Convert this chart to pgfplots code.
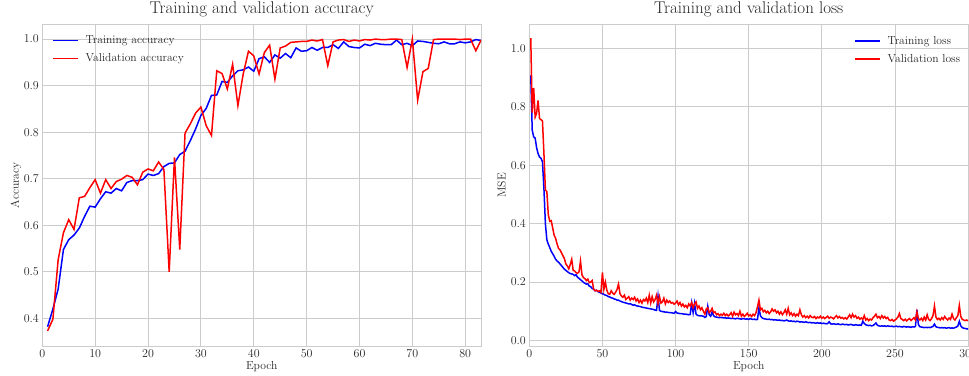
\documentclass[border=0pt]{standalone}
\usepackage{pgfplots}
\pgfplotsset{compat=1.18}
\definecolor{txt}{gray}{0.15}
\definecolor{gridc}{gray}{0.8}
\begin{document}
\begin{tikzpicture}
\useasboundingbox (0,0) rectangle (969pt,375pt);
\clip (0,0) rectangle (969pt,375pt);
\pgfplotsset{
  legend image code/.code={\draw[#1, line width=1.5pt] (0pt,0pt) -- (25pt,0pt);},
  every axis/.append style={
    scale only axis, width=438.8pt, height=321.5pt, anchor=south west,
    font=\fontsize{11.6}{13.5}\selectfont,
    grid=major, major grid style={gridc, line width=0.9pt},
    axis line style={gridc, line width=1pt},
    major tick length=0pt,
    tick label style={text=txt},
    label style={text=txt},
    title style={font=\fontsize{17}{20}\selectfont, text=txt, yshift=-2.5pt},
    legend cell align=left,
    xlabel style={at={(axis description cs:0.5,-0.0644)}, anchor=center},
    yticklabel style={/pgf/number format/.cd, fixed, fixed zerofill, precision=1},
  }
}
% ---------------- Accuracy ----------------
\begin{axis}[
  at={(42.3pt,29pt)},
  xmin=0, xmax=83, ymin=0.3406, ymax=1.0314,
  xtick={0,10,20,30,40,50,60,70,80},
  ytick={0.4,0.5,0.6,0.7,0.8,0.9,1.0},
  title={Training and validation accuracy},
  xlabel={Epoch}, ylabel={Accuracy},
  ylabel style={at={(axis description cs:-0.060,0.5)}, anchor=center},
  legend style={draw=none, fill=none, at={(axis description cs:0.022,0.972)}, anchor=north west, inner sep=0pt, row sep=4.5pt, column sep=5pt, nodes={inner sep=2pt, text=txt}},
]
\addplot[color=blue, line width=1.5pt] table[x expr=\coordindex+1, y index=0, header=false, row sep=\\] {
0.382\\0.42\\0.463\\0.548\\0.569\\0.579\\0.594\\0.619\\0.641\\0.639\\
0.657\\0.672\\0.669\\0.679\\0.674\\0.692\\0.696\\0.696\\0.698\\0.71\\
0.707\\0.711\\0.726\\0.733\\0.734\\0.752\\0.759\\0.782\\0.807\\0.836\\
0.851\\0.879\\0.88\\0.909\\0.907\\0.921\\0.932\\0.934\\0.94\\0.931\\
0.958\\0.962\\0.95\\0.966\\0.959\\0.969\\0.96\\0.981\\0.974\\0.975\\
0.982\\0.976\\0.982\\0.982\\0.988\\0.98\\0.994\\0.984\\0.982\\0.981\\
0.989\\0.986\\0.991\\0.989\\0.988\\0.988\\0.998\\0.988\\0.991\\0.986\\
0.996\\0.995\\0.993\\0.991\\0.99\\0.994\\0.99\\0.99\\0.994\\0.992\\
0.994\\0.999\\0.997\\
};
\addlegendentry{Training accuracy}
\addplot[color=red, line width=1.5pt] table[x expr=\coordindex+1, y index=0, header=false, row sep=\\] {
0.373\\0.398\\0.526\\0.584\\0.612\\0.591\\0.659\\0.662\\0.681\\0.698\\
0.669\\0.698\\0.679\\0.694\\0.699\\0.707\\0.703\\0.687\\0.714\\0.721\\
0.717\\0.736\\0.72\\0.5\\0.746\\0.548\\0.798\\0.818\\0.841\\0.854\\
0.814\\0.793\\0.932\\0.926\\0.893\\0.946\\0.857\\0.925\\0.974\\0.964\\
0.925\\0.971\\0.987\\0.914\\0.981\\0.985\\0.993\\0.994\\0.995\\0.995\\
0.998\\0.996\\0.999\\0.943\\0.994\\0.998\\0.999\\0.995\\0.998\\0.996\\
0.999\\0.998\\1.0\\0.999\\0.999\\1.0\\1.0\\0.999\\0.939\\1.0\\
0.869\\0.93\\0.937\\0.999\\1.0\\1.0\\1.0\\1.0\\0.999\\1.0\\
1.0\\0.975\\0.998\\
};
\addlegendentry{Validation accuracy}
\end{axis}
% ---------------- Loss ----------------
\begin{axis}[
  at={(529.3pt,29pt)},
  xmin=0, xmax=300, ymin=-0.019, ymax=1.082,
  xtick={0,50,100,150,200,250,300},
  ytick={0,0.2,0.4,0.6,0.8,1.0},
  title={Training and validation loss},
  xlabel={Epoch}, ylabel={MSE},
  ylabel style={at={(axis description cs:-0.063,0.5)}, anchor=center},
  legend style={draw=none, fill=none, at={(axis description cs:0.987,0.97)}, anchor=north east, inner sep=0pt, row sep=4.5pt, column sep=5pt, nodes={inner sep=2pt, text=txt}},
]
\addplot[color=blue, line width=1.5pt] table[x expr=\coordindex+1, y index=0, header=false, row sep=\\] {
0.908\\0.72\\0.697\\0.693\\0.66\\0.64\\0.628\\0.624\\0.612\\0.52\\
0.40\\0.345\\0.33\\0.318\\0.305\\0.297\\0.288\\0.278\\0.272\\0.268\\
0.262\\0.256\\0.25\\0.244\\0.24\\0.236\\0.232\\0.229\\0.228\\0.226\\
0.222\\0.225\\0.216\\0.213\\0.208\\0.204\\0.199\\0.196\\0.193\\0.194\\
0.186\\0.184\\0.178\\0.176\\0.17\\0.172\\0.167\\0.165\\0.162\\0.16\\
0.158\\0.155\\0.154\\0.15\\0.149\\0.146\\0.145\\0.142\\0.141\\0.138\\
0.138\\0.135\\0.133\\0.131\\0.13\\0.128\\0.127\\0.125\\0.126\\0.123\\
0.121\\0.122\\0.119\\0.118\\0.117\\0.116\\0.114\\0.113\\0.112\\0.111\\
0.11\\0.109\\0.108\\0.107\\0.106\\0.104\\0.103\\0.152\\0.103\\0.1\\
0.099\\0.098\\0.097\\0.097\\0.096\\0.095\\0.095\\0.094\\0.093\\0.099\\
0.094\\0.093\\0.092\\0.092\\0.091\\0.09\\0.09\\0.089\\0.088\\0.089\\
0.128\\0.095\\0.127\\0.09\\0.086\\0.085\\0.084\\0.084\\0.083\\0.079\\
0.082\\0.117\\0.088\\0.083\\0.098\\0.085\\0.081\\0.08\\0.079\\0.078\\
0.079\\0.078\\0.077\\0.078\\0.076\\0.077\\0.076\\0.075\\0.076\\0.075\\
0.074\\0.076\\0.075\\0.074\\0.073\\0.075\\0.074\\0.073\\0.074\\0.072\\
0.075\\0.073\\0.072\\0.073\\0.071\\0.072\\0.112\\0.085\\0.078\\0.075\\
0.074\\0.073\\0.072\\0.073\\0.071\\0.072\\0.07\\0.071\\0.07\\0.069\\
0.07\\0.068\\0.069\\0.067\\0.068\\0.07\\0.067\\0.066\\0.067\\0.065\\
0.066\\0.064\\0.066\\0.065\\0.063\\0.064\\0.063\\0.062\\0.064\\0.062\\
0.061\\0.062\\0.06\\0.061\\0.06\\0.059\\0.061\\0.059\\0.06\\0.058\\
0.059\\0.058\\0.057\\0.058\\0.064\\0.057\\0.056\\0.057\\0.056\\0.055\\
0.057\\0.055\\0.054\\0.056\\0.055\\0.054\\0.055\\0.053\\0.054\\0.055\\
0.053\\0.052\\0.054\\0.053\\0.052\\0.053\\0.052\\0.066\\0.058\\0.054\\
0.052\\0.051\\0.052\\0.05\\0.051\\0.055\\0.06\\0.052\\0.05\\0.049\\
0.05\\0.049\\0.05\\0.048\\0.05\\0.049\\0.048\\0.049\\0.047\\0.048\\
0.049\\0.047\\0.048\\0.047\\0.046\\0.048\\0.047\\0.046\\0.047\\0.046\\
0.045\\0.047\\0.046\\0.048\\0.105\\0.055\\0.047\\0.046\\0.045\\0.044\\
0.045\\0.044\\0.045\\0.044\\0.046\\0.048\\0.056\\0.047\\0.045\\0.044\\
0.043\\0.044\\0.043\\0.044\\0.042\\0.043\\0.044\\0.042\\0.043\\0.042\\
0.044\\0.046\\0.05\\0.066\\0.05\\0.044\\0.042\\0.041\\0.04\\0.039\\
};
\addlegendentry{Training loss}
\addplot[color=red, line width=1.5pt] table[x expr=\coordindex+1, y index=0, header=false, row sep=\\] {
1.035\\0.78\\0.865\\0.765\\0.778\\0.822\\0.76\\0.756\\0.752\\0.64\\
0.515\\0.51\\0.43\\0.408\\0.41\\0.385\\0.36\\0.35\\0.33\\0.315\\
0.31\\0.3\\0.29\\0.28\\0.262\\0.255\\0.245\\0.26\\0.278\\0.24\\
0.238\\0.232\\0.23\\0.235\\0.272\\0.225\\0.215\\0.212\\0.205\\0.21\\
0.198\\0.2\\0.205\\0.175\\0.17\\0.172\\0.168\\0.17\\0.165\\0.233\\
0.175\\0.2\\0.172\\0.16\\0.158\\0.17\\0.162\\0.158\\0.165\\0.175\\
0.193\\0.16\\0.152\\0.148\\0.155\\0.14\\0.145\\0.15\\0.138\\0.145\\
0.14\\0.148\\0.135\\0.142\\0.13\\0.138\\0.128\\0.14\\0.135\\0.145\\
0.13\\0.155\\0.128\\0.15\\0.132\\0.14\\0.155\\0.125\\0.15\\0.128\\
0.132\\0.145\\0.125\\0.138\\0.13\\0.135\\0.128\\0.13\\0.124\\0.128\\
0.135\\0.122\\0.13\\0.118\\0.125\\0.115\\0.12\\0.112\\0.125\\0.118\\
0.13\\0.112\\0.125\\0.132\\0.11\\0.118\\0.105\\0.112\\0.1\\0.09\\
0.108\\0.112\\0.095\\0.1\\0.11\\0.095\\0.098\\0.088\\0.092\\0.085\\
0.09\\0.086\\0.093\\0.085\\0.09\\0.084\\0.088\\0.095\\0.083\\0.097\\
0.088\\0.092\\0.085\\0.1\\0.083\\0.09\\0.082\\0.087\\0.093\\0.084\\
0.088\\0.082\\0.09\\0.085\\0.095\\0.115\\0.138\\0.105\\0.11\\0.098\\
0.103\\0.095\\0.1\\0.092\\0.098\\0.108\\0.1\\0.105\\0.095\\0.1\\
0.09\\0.098\\0.088\\0.095\\0.105\\0.09\\0.11\\0.088\\0.095\\0.085\\
0.092\\0.083\\0.09\\0.085\\0.105\\0.088\\0.08\\0.085\\0.078\\0.083\\
0.077\\0.085\\0.08\\0.078\\0.082\\0.075\\0.08\\0.077\\0.083\\0.076\\
0.08\\0.075\\0.079\\0.083\\0.076\\0.08\\0.078\\0.074\\0.08\\0.085\\
0.077\\0.082\\0.076\\0.079\\0.074\\0.078\\0.073\\0.08\\0.088\\0.078\\
0.09\\0.08\\0.085\\0.076\\0.08\\0.073\\0.077\\0.072\\0.085\\0.07\\
0.075\\0.068\\0.073\\0.07\\0.078\\0.083\\0.09\\0.078\\0.082\\0.075\\
0.085\\0.077\\0.082\\0.075\\0.079\\0.07\\0.068\\0.072\\0.066\\0.07\\
0.074\\0.08\\0.092\\0.075\\0.072\\0.068\\0.073\\0.067\\0.072\\0.075\\
0.068\\0.073\\0.078\\0.07\\0.098\\0.075\\0.07\\0.076\\0.068\\0.08\\
0.07\\0.088\\0.072\\0.068\\0.075\\0.085\\0.118\\0.08\\0.072\\0.076\\
0.07\\0.078\\0.072\\0.082\\0.075\\0.07\\0.077\\0.072\\0.09\\0.075\\
0.07\\0.078\\0.085\\0.12\\0.082\\0.072\\0.07\\0.068\\0.07\\0.067\\
};
\addlegendentry{Validation loss}
\end{axis}
\end{tikzpicture}
\end{document}
